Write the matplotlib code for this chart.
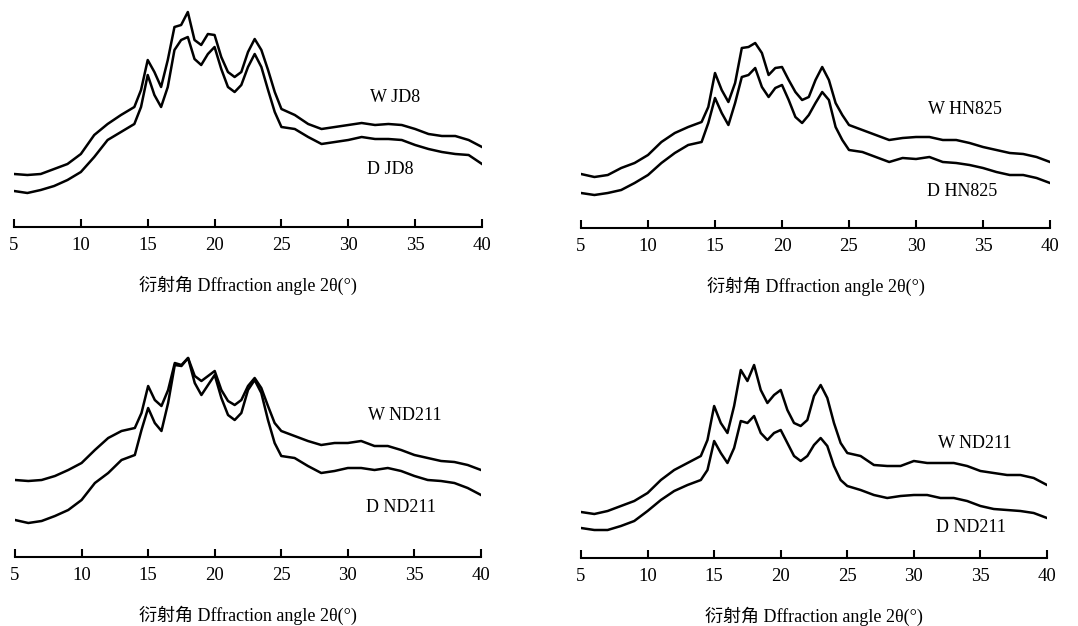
import matplotlib
matplotlib.use("Agg")
import matplotlib.pyplot as plt

# Shared 2-theta grid (degrees)
X = [5, 6, 7, 8, 9, 10, 11, 12, 13, 14, 14.5, 15, 15.5, 16, 16.5, 17, 17.5, 18,
     18.5, 19, 19.5, 20, 20.5, 21, 21.5, 22, 22.5, 23, 23.5, 24, 24.5, 25,
     26, 27, 28, 29, 30, 31, 32, 33, 34, 35, 36, 37, 38, 39, 40]

# Intensities (a.u.)
W_JD8 = [53, 52, 53, 58, 63, 73, 92, 103, 112, 120, 137, 167, 155, 140, 167, 200, 202, 215,
         187, 182, 193, 192, 170, 155, 150, 155, 175, 188, 177, 157, 135, 118,
         112, 103, 98, 100, 102, 104, 102, 103, 102, 98, 93, 91, 91, 87, 80]
D_JD8 = [36, 34, 37, 41, 47, 55, 70, 87, 95, 103, 120, 152, 132, 120, 140, 177, 187, 190,
         168, 162, 173, 180, 158, 140, 135, 142, 160, 173, 160, 137, 115, 100,
         98, 90, 83, 85, 87, 90, 88, 88, 87, 82, 78, 75, 73, 72, 63]

W_HN825 = [54, 51, 53, 60, 65, 73, 86, 95, 101, 106, 121, 155, 138, 126, 145, 180, 181, 185,
           175, 153, 160, 161, 148, 136, 128, 131, 148, 161, 148, 125, 113, 103,
           98, 93, 88, 90, 91, 91, 88, 88, 85, 81, 78, 75, 74, 71, 66]
D_HN825 = [35, 33, 35, 38, 45, 53, 65, 75, 83, 86, 105, 130, 115, 103, 125, 151, 153, 160,
           141, 131, 140, 143, 128, 111, 105, 113, 125, 136, 128, 101, 88, 78,
           76, 71, 66, 70, 69, 71, 66, 65, 63, 60, 56, 53, 53, 50, 45]

W_ND211_a = [77, 76, 77, 81, 87, 94, 107, 119, 126, 129, 144, 171, 157, 151, 167, 194, 192, 199,
             181, 176, 181, 186, 167, 156, 152, 157, 171, 179, 169, 151, 134, 126,
             121, 116, 112, 114, 114, 116, 111, 111, 107, 102, 99, 96, 95, 92, 87]
D_ND211_a = [37, 34, 36, 41, 47, 57, 74, 84, 97, 102, 127, 149, 134, 126, 154, 192, 191, 199,
             174, 162, 172, 182, 159, 142, 137, 144, 167, 177, 164, 137, 114, 101,
             99, 91, 84, 86, 89, 89, 87, 89, 86, 81, 77, 76, 74, 69, 62]

W_ND211_b = [46, 44, 47, 52, 57, 65, 78, 88, 95, 102, 118, 152, 135, 125, 152, 188, 177, 193,
             168, 155, 163, 168, 148, 135, 132, 138, 162, 173, 160, 135, 115, 105,
             102, 93, 92, 92, 97, 95, 95, 95, 92, 87, 85, 83, 83, 80, 73]
D_ND211_b = [30, 28, 28, 32, 37, 47, 58, 67, 73, 78, 88, 117, 105, 95, 110, 137, 135, 142,
             125, 118, 125, 128, 115, 102, 97, 102, 113, 120, 112, 92, 78, 72,
             68, 63, 60, 62, 63, 63, 60, 60, 57, 52, 49, 48, 47, 45, 40]

TICKS = [5, 10, 15, 20, 25, 30, 35, 40]
XLABEL = "衍射角 Dffraction angle 2θ(°)"

panels = [
    dict(pos=[14, 227, 468], W=W_JD8, D=D_JD8, wl="W JD8", dl="D JD8",
         wxy=(31.6, 130), dxy=(31.4, 57)),
    dict(pos=[581, 228, 469], W=W_HN825, D=D_HN825, wl="W HN825", dl="D HN825",
         wxy=(30.9, 118), dxy=(30.8, 36)),
    dict(pos=[15, 557, 466], W=W_ND211_a, D=D_ND211_a, wl="W ND211", dl="D ND211",
         wxy=(31.5, 141), dxy=(31.4, 50)),
    dict(pos=[581, 558, 466], W=W_ND211_b, D=D_ND211_b, wl="W ND211", dl="D ND211",
         wxy=(31.8, 115), dxy=(31.7, 30)),
]

FW, FH = 1078, 626
fig = plt.figure(figsize=(FW / 100, FH / 100), dpi=100)
serif = ["Liberation Serif", "Noto Sans CJK SC", "DejaVu Sans"]
AXH = 220

for p in panels:
    left, base, width = p["pos"]
    ax = fig.add_axes([left / FW, (FH - base) / FH, width / FW, AXH / FH])
    ax.plot(X, p["W"], color="black", lw=1.8, solid_joinstyle="round")
    ax.plot(X, p["D"], color="black", lw=1.8, solid_joinstyle="round")
    ax.set_xlim(5, 40)
    ax.set_ylim(0, AXH)
    for s in ["top", "right", "left"]:
        ax.spines[s].set_visible(False)
    ax.spines["bottom"].set_linewidth(1.5)
    ax.set_yticks([])
    ax.set_xticks(TICKS)
    ax.set_xticklabels([str(t) for t in TICKS], family=serif, fontsize=13.5)
    ax.tick_params(axis="x", direction="in", length=6, width=1.5, pad=7)
    for t in ax.xaxis.get_major_ticks():
        t.tick1line.set_clip_on(False)
    ax.text(p["wxy"][0], p["wxy"][1], p["wl"], family=serif, fontsize=13,
            ha="left", va="center")
    ax.text(p["dxy"][0], p["dxy"][1], p["dl"], family=serif, fontsize=13,
            ha="left", va="center")
    ax.text(0.5, -58 / AXH, XLABEL, transform=ax.transAxes, family=serif,
            fontsize=13, ha="center", va="center")

fig.savefig("out.png", dpi=100)
